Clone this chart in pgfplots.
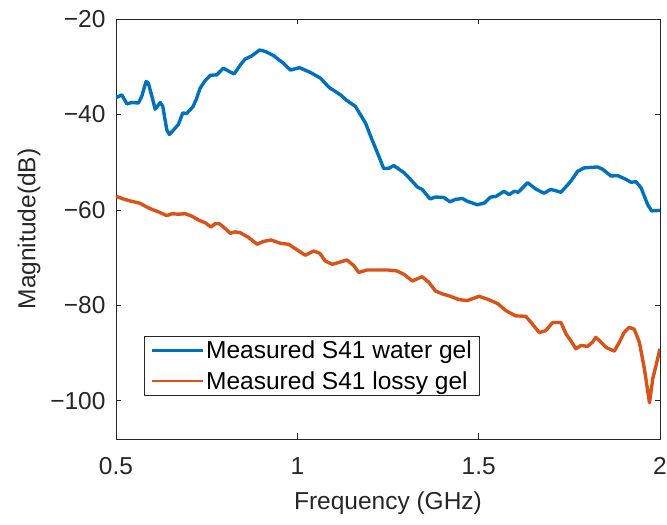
\documentclass[border=0pt]{standalone}
\usepackage{pgfplots}
\pgfplotsset{compat=1.18}
\usepackage{fontspec}
\setmainfont{Liberation Sans}
\definecolor{mblue}{rgb}{0,0.447,0.741}
\definecolor{morange}{rgb}{0.85,0.325,0.098}
\definecolor{axgray}{rgb}{0.15,0.15,0.15}
\begin{document}
\begin{tikzpicture}
\begin{axis}[
  scale only axis, width=544pt, height=420pt,
  xmin=0.5, xmax=2, ymin=-108, ymax=-20,
  xtick={0.5,1,1.5,2}, xticklabels={0.5,1,1.5,2},
  ytick={-100,-80,-60,-40,-20}, yticklabels={−100,−80,−60,−40,−20},
  axis line style={axgray, line width=0.8pt},
  tick style={axgray, line width=0.8pt},
  major tick length=5.5pt,
  tick label style={font=\fontsize{24.5}{29}\selectfont, text=axgray},
  xticklabel style={yshift=-15pt},
  yticklabel style={xshift=-7pt},
  label style={font=\fontsize{24.5}{29}\selectfont, text=axgray},
  xlabel={Frequency (GHz)}, ylabel={Magnitude(dB)},
  xlabel style={at={(axis description cs:0.5,-0.1179)}, anchor=north},
  ylabel style={at={(axis description cs:-0.1323,0.5)}, anchor=south},
  legend style={at={(0.0515,0.1024)}, anchor=south west, draw=axgray, line width=0.8pt, fill=white,
    font=\fontsize{24.5}{31}\selectfont, inner xsep=6pt, inner ysep=3pt, row sep=7pt, cells={anchor=west}},
  legend cell align=left,
  legend image code/.code={\draw[#1, line width=2.8pt] (0pt,0pt) -- (51pt,0pt);},
  every axis plot/.append style={line width=3.4pt, line join=round},
]
\addplot[mblue] coordinates {
(0.500,-36.6) (0.502,-36.4) (0.516,-35.9) (0.530,-37.8) (0.543,-37.5) (0.562,-37.6) (0.571,-36.2) (0.583,-33.1) (0.589,-33.4) (0.599,-36.2) (0.608,-38.9) (0.622,-37.5) (0.629,-38.3) (0.640,-43.2) (0.647,-44.2) (0.658,-43.3) (0.672,-42.1) (0.684,-39.7) (0.695,-39.8) (0.712,-38.4) (0.721,-36.9) (0.732,-34.5) (0.746,-32.9) (0.760,-31.8) (0.778,-31.7) (0.796,-30.3) (0.810,-30.9) (0.826,-31.5) (0.843,-29.6) (0.856,-28.4) (0.875,-27.7) (0.896,-26.5) (0.912,-26.8) (0.935,-27.7) (0.962,-29.3) (0.981,-30.7) (1.006,-30.2) (1.036,-31.2) (1.064,-32.4) (1.087,-34.3) (1.119,-35.9) (1.137,-37.1) (1.160,-38.3) (1.188,-41.8) (1.206,-45.3) (1.225,-48.8) (1.238,-51.3) (1.252,-51.3) (1.266,-50.7) (1.294,-52.2) (1.312,-53.6) (1.331,-55.2) (1.344,-55.7) (1.366,-57.7) (1.381,-57.3) (1.404,-57.4) (1.421,-58.3) (1.436,-57.8) (1.455,-57.6) (1.469,-58.2) (1.496,-58.9) (1.515,-58.6) (1.533,-57.3) (1.547,-57.2) (1.570,-56.1) (1.584,-56.8) (1.598,-56.1) (1.609,-56.3) (1.635,-54.3) (1.657,-55.6) (1.680,-56.5) (1.699,-55.7) (1.727,-56.3) (1.754,-54.0) (1.773,-51.9) (1.791,-51.2) (1.828,-51.0) (1.842,-51.5) (1.865,-52.9) (1.883,-52.8) (1.906,-53.6) (1.920,-54.2) (1.934,-54.1) (1.948,-55.4) (1.966,-58.9) (1.977,-60.2) (2.000,-60.1)
};
\addlegendentry{Measured S41 water gel}
\addplot[morange] coordinates {
(0.500,-57.1) (0.502,-57.2) (0.520,-57.7) (0.543,-58.2) (0.566,-58.6) (0.580,-59.2) (0.599,-59.9) (0.617,-60.4) (0.640,-61.2) (0.654,-60.8) (0.672,-60.9) (0.691,-60.8) (0.709,-61.3) (0.727,-62.1) (0.746,-62.7) (0.762,-63.6) (0.773,-62.9) (0.785,-62.9) (0.801,-63.9) (0.815,-64.9) (0.829,-64.6) (0.843,-64.8) (0.866,-65.8) (0.889,-67.2) (0.907,-66.6) (0.928,-66.3) (0.953,-67.0) (0.976,-67.2) (0.994,-68.1) (1.022,-69.5) (1.045,-68.6) (1.062,-69.1) (1.077,-70.7) (1.096,-71.4) (1.119,-70.9) (1.137,-70.5) (1.156,-71.7) (1.169,-73.1) (1.192,-72.6) (1.220,-72.6) (1.252,-72.6) (1.275,-72.8) (1.294,-73.5) (1.317,-74.9) (1.344,-74.0) (1.363,-75.2) (1.381,-77.0) (1.400,-77.6) (1.418,-78.0) (1.446,-78.8) (1.469,-79.0) (1.501,-78.1) (1.524,-78.7) (1.552,-79.6) (1.575,-81.1) (1.602,-82.2) (1.630,-82.3) (1.648,-83.9) (1.667,-85.7) (1.685,-85.3) (1.704,-83.6) (1.727,-83.6) (1.741,-86.0) (1.754,-87.4) (1.768,-89.1) (1.782,-88.4) (1.800,-88.6) (1.814,-87.7) (1.823,-86.7) (1.837,-87.7) (1.851,-88.8) (1.874,-89.6) (1.888,-87.7) (1.901,-85.7) (1.915,-84.6) (1.929,-85.0) (1.943,-87.7) (1.957,-93.3) (1.971,-100.4) (1.980,-95.4) (1.989,-92.6) (2.000,-89.1)
};
\addlegendentry{Measured S41 lossy gel}
\end{axis}
\pgfresetboundingbox
\path[use as bounding box] ([shift={(-116pt,-86pt)}]current axis.south west) rectangle ([shift={(7pt,19pt)}]current axis.north east);
\end{tikzpicture}
\end{document}
